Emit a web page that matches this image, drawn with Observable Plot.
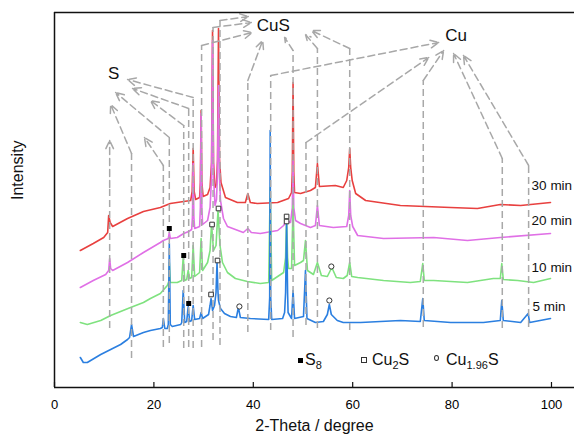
<!DOCTYPE html>
<html>
<head>
<meta charset="utf-8">
<script src="https://cdn.jsdelivr.net/npm/d3@7"></script>
<script src="https://cdn.jsdelivr.net/npm/@observablehq/plot@0.6"></script>
<style>
  html, body { margin: 0; padding: 0; background: #fff; }
  #wrap { position: relative; width: 574px; height: 443px; font-family: "Liberation Sans", Arial, sans-serif; }
  #legend { position: absolute; left: 0; top: 0; width: 574px; height: 443px; pointer-events: none; }
  .lg { position: absolute; font-size: 16px; color: #111; line-height: 16px; white-space: nowrap; }
  .lg sub { font-size: 11px; vertical-align: -4px; line-height: 0; }
  .sym { position: absolute; box-sizing: border-box; }
</style>
</head>
<body>
<div id="wrap"></div>
<script>
// ---- data (2-theta in degrees, intensity in arbitrary offset units) ----
const xTicks = [0, 20, 40, 60, 80, 100];

const min30 = [[5.2,137],[7.8,144],[9.9,150],[10.7,155],[10.9,172],[11.2,165],[11.7,161],[14.7,169],[17.9,176],[21.3,180],[23.3,184],[26.0,186],[27.4,187],[27.7,196],[27.9,239],[28.1,196],[28.4,188],[29.2,190],[29.35,205],[29.5,277],[29.65,205],[29.9,191],[30.8,193],[31.3,200],[31.6,225],[31.8,357],[32.0,225],[32.3,200],[32.6,203],[32.8,228],[33.0,359],[33.2,228],[33.5,205],[34.4,190],[36.8,185],[38.4,185],[38.9,194],[39.4,185],[40.8,184],[44.9,185],[47.1,189],[47.7,195],[47.85,215],[48.0,305],[48.15,215],[48.3,195],[49.5,194],[51.5,197],[52.5,200],[52.9,224],[53.3,201],[56.5,202],[58.1,200],[58.8,207],[59.2,220],[59.4,239],[59.6,220],[59.9,207],[60.6,194],[62.6,187],[69.6,182],[79.7,180],[85.1,179],[89.7,183],[93.8,182],[99.8,185]];

const min20 = [[5.2,100],[7.8,107],[10.3,113],[10.9,117],[11.1,129],[11.3,119],[11.7,117],[14.7,125],[17.9,135],[21.3,145],[21.9,147],[22.9,149],[23.1,155],[23.3,149],[24.7,150],[26.0,154],[27.0,156],[27.6,158],[27.75,170],[27.9,224],[28.05,170],[28.2,159],[29.2,161],[29.35,180],[29.5,274],[29.65,180],[29.8,163],[30.8,167],[31.3,180],[31.6,210],[31.8,347],[32.0,210],[32.3,182],[32.6,188],[32.8,215],[33.0,302],[33.2,210],[33.4,187],[34.0,169],[34.8,161],[38.0,155],[38.9,159],[39.6,155],[41.4,154],[44.9,157],[46.1,162],[46.7,167],[47.5,165],[47.85,180],[48.0,227],[48.15,180],[48.5,167],[49.5,164],[51.5,160],[52.5,162],[52.9,182],[53.3,162],[56.1,160],[58.8,161],[59.2,172],[59.4,197],[59.6,172],[60.0,161],[61.0,152],[66.2,149],[76.3,150],[83.1,147],[89.7,150],[99.8,154]];

const min10 = [[5.2,65],[6.6,63],[9.3,67],[11.3,72],[15.3,80],[17.9,85],[19.3,89],[21.3,94],[22.7,102],[23.0,106],[23.1,125],[23.3,105],[24.7,105],[25.6,107],[25.9,131],[26.2,107],[26.6,108],[26.9,117],[27.2,109],[27.6,110],[27.9,142],[28.2,111],[29.2,115],[29.5,149],[29.8,117],[30.8,125],[31.3,137],[31.6,163],[32.0,137],[32.5,142],[32.9,177],[33.3,142],[33.8,125],[34.8,115],[36.4,109],[38.8,106],[41.4,104],[43.1,105],[43.4,200],[43.7,107],[44.9,111],[46.1,115],[46.5,130],[46.7,172],[46.9,130],[47.1,119],[47.7,119],[48.0,182],[48.3,122],[49.5,125],[50.1,127],[50.5,147],[50.9,117],[52.1,113],[52.9,125],[53.7,112],[54.9,111],[55.8,120],[56.7,110],[58.1,109],[58.9,112],[59.4,125],[59.8,111],[61.0,110],[66.2,107],[71.6,105],[73.6,106],[74.1,124],[74.4,107],[76.3,107],[83.1,105],[88.3,109],[89.7,109],[90.0,124],[90.3,108],[93.2,107],[96.4,105],[99.8,109]];

const min5 = [[5.2,30],[5.8,25],[6.6,25],[9.3,33],[11.3,38],[13.3,43],[14.7,48],[15.1,50],[15.5,63],[15.9,51],[17.9,55],[19.3,57],[21.3,59],[21.7,60],[21.9,69],[22.2,59],[22.7,59],[22.9,63],[23.1,144],[23.3,63],[23.7,61],[25.4,63],[25.6,65],[25.9,97],[26.2,65],[26.6,66],[26.9,81],[27.2,66],[27.6,67],[27.9,82],[28.2,68],[29.2,69],[29.5,75],[29.8,69],[31.0,73],[31.3,82],[31.5,89],[31.8,77],[32.2,82],[32.5,95],[32.7,125],[32.9,95],[33.0,87],[33.4,79],[34.2,74],[35.4,71],[36.6,70],[37.0,80],[37.4,70],[39.4,69],[43.1,68],[43.3,90],[43.4,257],[43.5,90],[43.7,68],[45.9,69],[46.3,75],[46.5,95],[46.7,163],[46.9,95],[47.0,75],[47.7,69],[48.0,97],[48.3,69],[50.1,71],[50.5,117],[50.8,69],[52.5,65],[54.1,66],[54.9,73],[55.3,83],[55.7,73],[56.9,67],[58.1,65],[61.6,65],[69.6,67],[73.6,66],[74.1,89],[74.4,67],[79.7,65],[86.3,65],[89.7,67],[90.0,87],[90.3,67],[93.8,65],[95.3,74],[95.6,65],[99.8,69]];

// phase markers [theta, intensity]
const s8Marks = [[23.1,159],[26.0,132],[27.0,84]];
const cu2sMarks = [[31.5,93],[32.8,127],[31.7,163],[33.0,179],[46.7,171],[46.7,166]];
const cu196sMarks = [[37.2,81],[55.3,87],[55.7,121]];

// reference lines [theta, bottom, bend, tipTheta, tipIntensity]
const sLines = [[11.1,59,200,11.1,247],[15.5,29,234,11.3,283],[21.9,40,222,18.1,250],[23.1,44,250,12.3,295],[26.0,39,262,19.3,287],[27.0,40,279,15.7,299],[27.9,39,290,14.7,308]];
const cusLines = [[29.6,40,342,39.8,355],[31.9,47,360,39.6,365],[33.3,42,367,39.0,371],[38.9,55,307,41.9,347],[48.0,50,337,46.3,350],[52.9,59,339,50.5,353],[59.4,57,339,51.7,357]];
const cuLines = [[43.5,57,312,77.3,345],[50.6,62,245,75.3,330],[74.2,60,307,78.3,337],[90.1,59,229,80.3,334],[95.4,60,222,82.3,332]];

const phaseLabels = [{t:"S", x:11.9, y:314},{t:"CuS", x:44.0, y:362},{t:"Cu", x:80.8, y:352}];
const timeLabels = [{t:"30 min", x:96.0, y:202},{t:"20 min", x:96.0, y:167},{t:"10 min", x:96.0, y:120},{t:"5 min", x:96.2, y:81}];

const series = [
  {pts: min30, color: "#e8403f"},
  {pts: min20, color: "#e070e6"},
  {pts: min10, color: "#7fe27f"},
  {pts: min5,  color: "#2b7fe0"}
];

const allLines = sLines.concat(cusLines, cuLines);
const dashStyle = {stroke: "#a8a8a8", strokeWidth: 1.5, strokeDasharray: "7,4"};

const chart = Plot.plot({
  width: 574, height: 443,
  marginLeft: 54, marginRight: 0, marginTop: 12, marginBottom: 56,
  style: {fontFamily: "'Liberation Sans', Arial, sans-serif", background: "transparent"},
  x: {domain: [0, 104.63]},
  y: {domain: [0, 375], axis: null},
  marks: [
    ...series.map(s => Plot.line(s.pts, {x: d => d[0], y: d => d[1], stroke: s.color, strokeWidth: 1.6})),
    Plot.ruleX(allLines, {x: d => d[0], y1: d => d[1], y2: d => d[2], ...dashStyle}),
    Plot.arrow(allLines, {x1: d => d[0], y1: d => d[2], x2: d => d[3], y2: d => d[4], headLength: 9, headAngle: 50, ...dashStyle}),
    Plot.dot(s8Marks, {x: d => d[0], y: d => d[1], symbol: "square", r: 2.8, fill: "#000"}),
    Plot.dot(cu2sMarks, {x: d => d[0], y: d => d[1], symbol: "square", r: 2.6, fill: "#fff", stroke: "#333", strokeWidth: 1}),
    Plot.dot(cu196sMarks, {x: d => d[0], y: d => d[1], r: 2.6, fill: "#fff", stroke: "#333", strokeWidth: 1}),
    Plot.text(phaseLabels, {x: "x", y: "y", text: "t", fontSize: 17, fill: "#111"}),
    Plot.text(timeLabels, {x: "x", y: "y", text: "t", fontSize: 13.5, textAnchor: "start", fill: "#111"}),
    Plot.ruleX([0], {stroke: "#111", strokeWidth: 1.5}),
    Plot.ruleY([0], {stroke: "#111", strokeWidth: 1.5}),
    Plot.ruleY([375], {stroke: "#111", strokeWidth: 1.5}),
    Plot.ruleX(xTicks, {y1: 0, y2: 5, stroke: "#111", strokeWidth: 1.2}),
    Plot.axisX({ticks: xTicks, tickSize: 0, tickPadding: 12, fontSize: 13, label: null, tickFormat: d => String(d)}),
    Plot.text(["2-Theta / degree"], {frameAnchor: "bottom", dy: 43, fontSize: 16, fill: "#111"}),
    Plot.text(["Intensity"], {frameAnchor: "left", dx: -37, rotate: -90, fontSize: 16, fill: "#111"})
  ]
});

const wrap = document.getElementById("wrap");
wrap.appendChild(chart);

// legend (placed inside the plot area, bottom centre)
const legend = document.createElement("div");
legend.id = "legend";
legend.innerHTML = `
  <div class="sym" style="left:298px;top:358px;width:5px;height:5px;background:#000"></div>
  <div class="lg" style="left:305px;top:352px">S<sub>8</sub></div>
  <div class="sym" style="left:361px;top:357px;width:6px;height:6px;border:1px solid #333;background:#fff"></div>
  <div class="lg" style="left:372px;top:352px">Cu<sub>2</sub>S</div>
  <div class="sym" style="left:434px;top:355px;width:5px;height:6px;border:1px solid #333;border-radius:50%;background:#fff"></div>
  <div class="lg" style="left:446px;top:352px">Cu<sub>1.96</sub>S</div>
`;
wrap.appendChild(legend);
</script>
</body>
</html>
